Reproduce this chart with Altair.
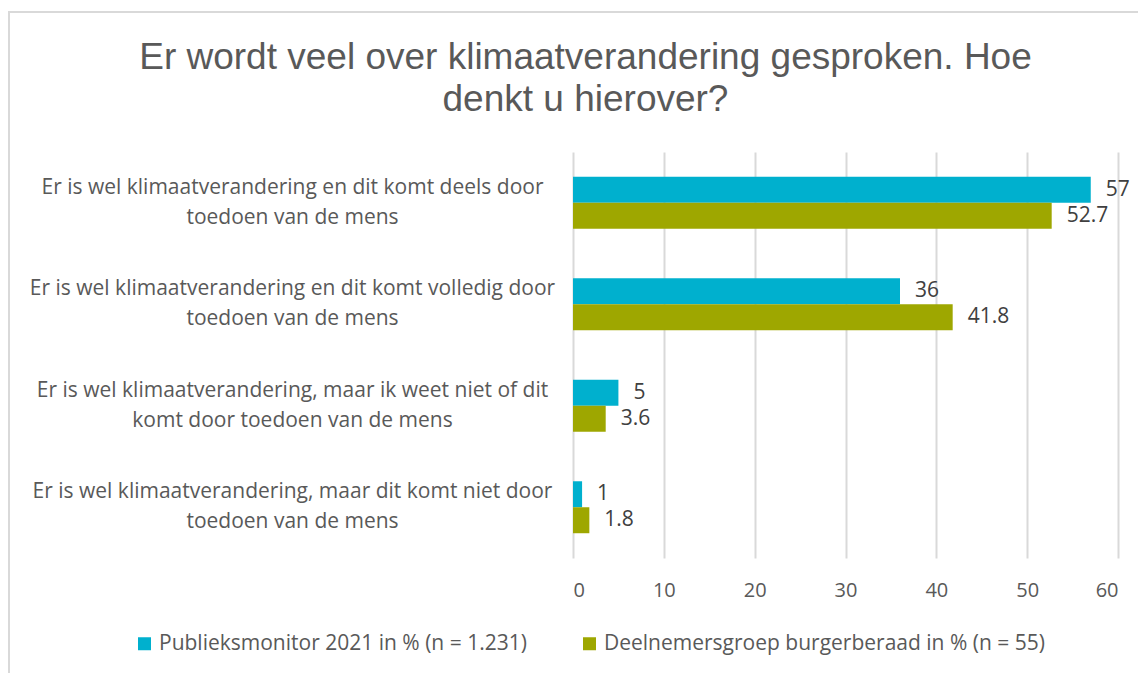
import altair as alt
import pandas as pd

categories = [
    "Er is wel klimaatverandering en dit komt deels door\ntoedoen van de mens",
    "Er is wel klimaatverandering en dit komt volledig door\ntoedoen van de mens",
    "Er is wel klimaatverandering, maar ik weet niet of dit\nkomt door toedoen van de mens",
    "Er is wel klimaatverandering, maar dit komt niet door\ntoedoen van de mens",
]
series = [
    "Publieksmonitor 2021 in % (n = 1.231)",
    "Deelnemersgroep burgerberaad in % (n = 55)",
]
publieksmonitor = [57, 36, 5, 1]
deelnemers = [52.7, 41.8, 3.6, 1.8]
colors = ["#00B0CE", "#9EA700"]
x_ticks = [0, 10, 20, 30, 40, 50, 60]
title_lines = ["Er wordt veel over klimaatverandering gesproken. Hoe", "denkt u hierover?"]

rows = []
for c, a, b in zip(categories, publieksmonitor, deelnemers):
    rows.append({"cat": c, "serie": series[0], "val": a, "lab": f"{a:g}"})
    rows.append({"cat": c, "serie": series[1], "val": b, "lab": f"{b:g}"})
df = pd.DataFrame(rows)

FONT = "Open Sans"

y_enc = alt.Y(
    "cat:N",
    sort=categories,
    scale=alt.Scale(paddingInner=0.488, paddingOuter=0.244),
    axis=alt.Axis(
        title=None,
        domain=False,
        ticks=False,
        grid=False,
        labelAlign="center",
        labelBaseline="middle",
        labelPadding=281,
        labelOffset=-15,
        labelFont=FONT,
        labelFontSize=21,
        labelColor="#595959",
        labelLineHeight=30,
        labelLimit=0,
        labelExpr="split(datum.label, '\\n')",
    ),
)
yoff_enc = alt.YOffset("serie:N", sort=series, scale=alt.Scale(paddingInner=0, paddingOuter=0))
x_enc = alt.X(
    "val:Q",
    scale=alt.Scale(domain=[0, 60], nice=False),
    axis=alt.Axis(
        title=None,
        values=x_ticks,
        domain=False,
        ticks=False,
        grid=True,
        gridColor="#d9d9d9",
        gridWidth=2,
        labelFont=FONT,
        labelFontSize=20,
        labelColor="#595959",
        labelPadding=22,
    ),
)
color_enc = alt.Color(
    "serie:N",
    sort=series,
    scale=alt.Scale(domain=series, range=colors),
    legend=alt.Legend(
        title=None,
        orient="none",
        legendX=-439,
        legendY=481,
        direction="horizontal",
        symbolType="square",
        symbolSize=169,
        symbolStrokeWidth=0,
        labelFont=FONT,
        labelFontSize=21,
        labelColor="#595959",
        columnPadding=52,
        labelOffset=4,
        labelLimit=0,
    ),
)

bars = alt.Chart(df).mark_bar().encode(y=y_enc, yOffset=yoff_enc, x=x_enc, color=color_enc)
texts = alt.Chart(df).mark_text(
    align="left", baseline="middle", dx=15, font=FONT, fontSize=21, color="#404040"
).encode(y=alt.Y("cat:N", sort=categories), yOffset=alt.YOffset("serie:N", sort=series), x="val:Q", text="lab:N")

frame_df = pd.DataFrame({"k": [1]})
frame = alt.Chart(frame_df).mark_rect(fill=None, stroke="#d9d9d9", strokeWidth=2).encode(
    x=alt.value(-564), x2=alt.value(600), y=alt.value(-140), y2=alt.value(530)
)

chart = (
    alt.layer(frame, bars, texts)
    .properties(
        width=545,
        height=406,
        autosize=alt.AutoSizeParams(type="none"),
        padding={"left": 565, "top": 144, "right": 20, "bottom": 115},
        title=alt.TitleParams(
            text=title_lines,
            font="Liberation Sans",
            fontSize=37,
            fontWeight="normal",
            color="#595959",
            anchor="middle",
            dx=-260,
            dy=141,
            offset=33,
            lineHeight=42,
        ),
    )
    .configure_view(stroke=None)
)

chart.save("out.html", embed_options={"renderer": "svg", "actions": False})
